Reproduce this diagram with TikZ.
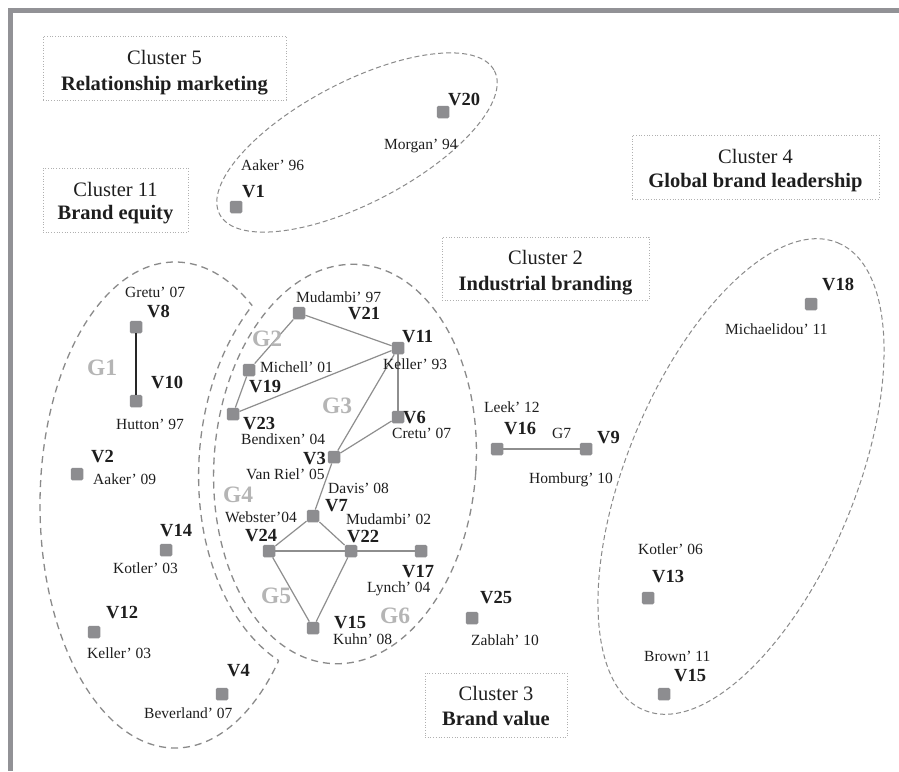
\documentclass[tikz,border=0pt]{standalone}
\usepackage{fontspec}
\setmainfont{Liberation Serif}
\definecolor{sqc}{HTML}{8D8D90}
\definecolor{edc}{HTML}{8E8E8E}
\definecolor{dc}{HTML}{8A8A8A}
\definecolor{glc}{HTML}{B5B5B5}
\definecolor{boxc}{HTML}{B0B0B0}
\definecolor{framec}{HTML}{929296}
\definecolor{txt}{HTML}{1E1E1E}
\begin{document}
\begin{tikzpicture}[x=1pt,y=-1pt,
  sq/.style={rectangle, fill=sqc, minimum size=12.5pt, inner sep=0pt, rounded corners=1.5pt},
  vl/.style={font=\bfseries\fontsize{18.5}{18.5}\selectfont, anchor=base west, inner sep=0pt, text=txt},
  al/.style={font=\fontsize{15.5}{15.5}\selectfont, anchor=base west, inner sep=0pt, text=txt},
  gl/.style={font=\bfseries\fontsize{23.5}{23.5}\selectfont, anchor=base west, inner sep=0pt, text=glc},
  edge/.style={draw=edc, line width=1.2pt},
  cbox/.style={draw=boxc, dotted, line width=0.7pt, rectangle, inner sep=0pt},
  ct/.style={font=\fontsize{20.5}{20.5}\selectfont, anchor=base, inner sep=0pt, text=txt},
  cb/.style={font=\bfseries\fontsize{20.5}{20.5}\selectfont, anchor=base, inner sep=0pt, text=txt},
  dA/.style={draw=dc, line width=1.3pt, dash pattern=on 7pt off 5pt},
  dB/.style={draw=dc, line width=1pt, dash pattern=on 5pt off 3pt}]

\useasboundingbox (0,0) rectangle (899,771);
\fill[white] (0,0) rectangle (899,771);
% frame
\fill[framec] (8,8) rectangle (899,13);
\fill[framec] (8,8) rectangle (13,771);

% cluster boxes
\node[cbox, minimum width=243pt, minimum height=64pt] (c5box) at (164.5,68) {};
\node[ct] (c5a) at (164.5,64) {Cluster 5};
\node[cb] (c5b) at (164.5,90) {Relationship marketing};
\node[cbox, minimum width=145pt, minimum height=64pt] (c11box) at (115.5,200) {};
\node[ct] (c11a) at (115.5,196) {Cluster 11};
\node[cb] (c11b) at (115.5,219) {Brand equity};
\node[cbox, minimum width=247pt, minimum height=64pt] (c4box) at (755.5,167) {};
\node[ct] (c4a) at (755.5,163) {Cluster 4};
\node[cb] (c4b) at (755.5,187) {Global brand leadership};
\node[cbox, minimum width=207pt, minimum height=63pt] (c2box) at (545.5,268.5) {};
\node[ct] (c2a) at (545.5,264) {Cluster 2};
\node[cb] (c2b) at (545.5,290) {Industrial branding};
\node[cbox, minimum width=142pt, minimum height=64pt] (c3box) at (496,705) {};
\node[ct] (c3a) at (496,700) {Cluster 3};
\node[cb] (c3b) at (496,725) {Brand value};

% ellipses
\draw[dB] (357,142.5) circle [x radius=155, y radius=60.5, rotate=27.6];
\draw[dB] (741,476.5) circle [x radius=253, y radius=114, rotate=67.5];
\draw[dA] (345,464) circle [x radius=131, y radius=200, rotate=-4];
\begin{scope}[even odd rule]
  \clip (-20,-20) rectangle (920,790) (345,464) circle [x radius=146, y radius=215, rotate=-4];
  \draw[dA] (175,505) circle [x radius=135, y radius=243];
\end{scope}
\begin{scope}
  \clip (175,505) circle [x radius=135, y radius=243];
  \draw[dA] (345,464) circle [x radius=146, y radius=215, rotate=-4];
\end{scope}

% squares
\node[sq] (v1) at (236,207) {};
\node[sq] (v20) at (443,112) {};
\node[sq] (v8) at (136,327) {};
\node[sq] (v10) at (136,401) {};
\node[sq] (v2) at (77,474) {};
\node[sq] (v14) at (166,550) {};
\node[sq] (v12) at (94,632) {};
\node[sq] (v4) at (222,694) {};
\node[sq] (v21) at (299,313) {};
\node[sq] (v11) at (398,348) {};
\node[sq] (v19) at (249,370) {};
\node[sq] (v23) at (233,414) {};
\node[sq] (v6) at (398,417) {};
\node[sq] (v3) at (334,457) {};
\node[sq] (v7) at (313,516) {};
\node[sq] (v24) at (269,551) {};
\node[sq] (v22) at (351,551) {};
\node[sq] (v17) at (421,551) {};
\node[sq] (v15a) at (313,628) {};
\node[sq] (v25) at (472,618) {};
\node[sq] (v16) at (497,449) {};
\node[sq] (v9) at (586,449) {};
\node[sq] (v18) at (811,304) {};
\node[sq] (v13) at (648,598) {};
\node[sq] (v15b) at (664,694) {};

% edges
\draw[black!85, line width=2pt] (v8) -- (v10);
\draw[edge] (v21) -- (v11);
\draw[edge] (v21) -- (v19);
\draw[edge] (v19) -- (v23);
\draw[edge] (v23) -- (v11);
\draw[edge] (v11) -- (v3);
\draw[edge] (v11) -- (v6);
\draw[edge] (v6) -- (v3);
\draw[edge] (v3) -- (v7);
\draw[edge] (v7) -- (v24);
\draw[edge] (v7) -- (v22);
\draw[edge] (v24) -- (v22);
\draw[edge] (v22) -- (v17);
\draw[edge] (v24) -- (v15a);
\draw[edge] (v22) -- (v15a);
\draw[edge] (v16) -- (v9);

% bold V labels
\node[vl] (l1) at (242,197) {V1};
\node[vl] (l20) at (448,105) {V20};
\node[vl] (l8) at (147,317) {V8};
\node[vl] (l10) at (151,388) {V10};
\node[vl] (l2) at (91,462) {V2};
\node[vl] (l14) at (160,536) {V14};
\node[vl] (l12) at (106,618) {V12};
\node[vl] (l4) at (227,676) {V4};
\node[vl] (l21) at (348,319) {V21};
\node[vl] (l11) at (402,342) {V11};
\node[vl] (l19) at (249,392) {V19};
\node[vl] (l23) at (243,429) {V23};
\node[vl] (l6) at (403,423) {V6};
\node[vl] (l3) at (303,464) {V3};
\node[vl] (l7) at (325,511) {V7};
\node[vl] (l24) at (245,541) {V24};
\node[vl] (l22) at (347,542) {V22};
\node[vl] (l17) at (402,577) {V17};
\node[vl] (l15a) at (334,628) {V15};
\node[vl] (l25) at (480,603) {V25};
\node[vl] (l16) at (504,434) {V16};
\node[vl] (l9) at (597,443) {V9};
\node[vl] (l18) at (822,290) {V18};
\node[vl] (l13) at (652,582) {V13};
\node[vl] (l15b) at (674,681) {V15};

% author labels
\node[al] (a1) at (241,170) {Aaker’ 96};
\node[al] (a20) at (384,149) {Morgan’ 94};
\node[al] (a8) at (125,297) {Gretu’ 07};
\node[al] (a10) at (116,429) {Hutton’ 97};
\node[al] (a2) at (93,484) {Aaker’ 09};
\node[al] (a14) at (113,573) {Kotler’ 03};
\node[al] (a12) at (87,658) {Keller’ 03};
\node[al] (a4) at (144,718) {Beverland’ 07};
\node[al] (a21) at (296,302) {Mudambi’ 97};
\node[al] (a19) at (260,372) {Michell’ 01};
\node[al] (a11) at (383,369) {Keller’ 93};
\node[al] (a23) at (241,444) {Bendixen’ 04};
\node[al] (a6) at (392,438) {Cretu’ 07};
\node[al] (a3) at (246,479) {Van Riel’ 05};
\node[al] (a7) at (328,493) {Davis’ 08};
\node[al] (a24) at (225,522) {Webster’04};
\node[al] (a22) at (346,524) {Mudambi’ 02};
\node[al] (a17) at (367,592) {Lynch’ 04};
\node[al] (a15a) at (333,644) {Kuhn’ 08};
\node[al] (a25) at (471,645) {Zablah’ 10};
\node[al] (a16) at (484,412) {Leek’ 12};
\node[al] (g7) at (552,438) {G7};
\node[al] (a9) at (529,483) {Homburg’ 10};
\node[al] (a18) at (725,334) {Michaelidou’ 11};
\node[al] (a13) at (638,554) {Kotler’ 06};
\node[al] (a15b) at (644,661) {Brown’ 11};

% group labels
\node[gl] (g1) at (87,375) {G1};
\node[gl] (g2) at (252,346) {G2};
\node[gl] (g3) at (322,413) {G3};
\node[gl] (g4) at (223,502) {G4};
\node[gl] (g5) at (261,603) {G5};
\node[gl] (g6) at (380,623) {G6};
\end{tikzpicture}
\end{document}
